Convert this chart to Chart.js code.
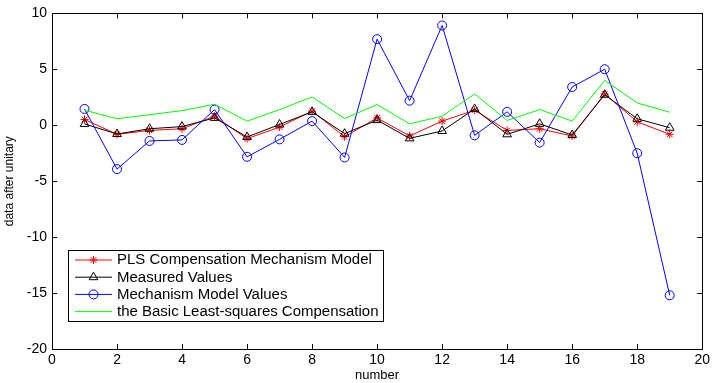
<!DOCTYPE html>
<html>
<head>
<meta charset="utf-8">
<script src="https://cdn.jsdelivr.net/npm/chart.js@4.4.0/dist/chart.umd.min.js"></script>
<style>
  html, body { margin: 0; padding: 0; background: #fff; }
  #wrap { width: 713px; height: 383px; }
</style>
</head>
<body>
<div id="wrap"><canvas id="plot" width="713" height="383"></canvas></div>
<script>
// values
const numbers = [1, 2, 3, 4, 5, 6, 7, 8, 9, 10, 11, 12, 13, 14, 15, 16, 17, 18, 19];
const plsModel = [0.52, -0.81, -0.46, -0.31, 0.81, -1.2, -0.16, 1.26, -1.02, 0.66, -0.96, 0.37, 1.35, -0.46, -0.31, -0.96, 2.8, 0.31, -0.81];
const measured = [0.12, -0.78, -0.31, -0.12, 0.66, -1.05, 0.07, 1.2, -0.75, 0.46, -1.17, -0.51, 1.46, -0.81, 0.13, -0.87, 2.73, 0.58, -0.22];
const mechanism = [1.46, -3.92, -1.4, -1.31, 1.4, -2.82, -1.26, 0.37, -2.88, 7.7, 2.2, 8.92, -0.9, 1.2, -1.55, 3.42, 5.01, -2.5, -15.2];
const basicLS = [1.35, 0.58, 0.95, 1.31, 1.88, 0.37, 1.4, 2.53, 0.6, 1.85, 0.13, 0.81, 2.8, 0.43, 1.4, 0.37, 4.01, 2.0, 1.17];

const xTicks = [0, 2, 4, 6, 8, 10, 12, 14, 16, 18, 20];
const yTicks = [-20, -15, -10, -5, 0, 5, 10];

const FONT = '"Liberation Sans", Arial, sans-serif';

function pts(values) {
    return numbers.map((n, i) => ({ x: n, y: values[i] }));
}

// frame, inward ticks on all four sides, and the boxed legend
const matlabAxes = {
    id: 'matlabAxes',
    beforeDatasetsDraw(chart) {
        const { ctx, chartArea: a, scales } = chart;
        const len = 5;
        ctx.save();
        ctx.strokeStyle = '#000';
        ctx.lineWidth = 1;
        ctx.beginPath();
        xTicks.forEach(v => {
            const px = Math.round(scales.x.getPixelForValue(v)) + 0.5;
            ctx.moveTo(px, a.bottom); ctx.lineTo(px, a.bottom - len);
            ctx.moveTo(px, a.top); ctx.lineTo(px, a.top + len);
        });
        yTicks.forEach(v => {
            const py = Math.round(scales.y.getPixelForValue(v)) + 0.5;
            ctx.moveTo(a.left, py); ctx.lineTo(a.left + len, py);
            ctx.moveTo(a.right, py); ctx.lineTo(a.right - len, py);
        });
        ctx.stroke();
        ctx.strokeRect(Math.round(a.left) + 0.5, Math.round(a.top) + 0.5,
            Math.round(a.right - a.left), Math.round(a.bottom - a.top));
        ctx.restore();
    },
    afterDraw(chart) {
        const { ctx } = chart;
        const box = { x: 68.5, y: 250.5, w: 315, h: 71 };
        ctx.save();
        ctx.fillStyle = '#fff';
        ctx.fillRect(box.x, box.y, box.w, box.h);
        ctx.strokeStyle = '#000';
        ctx.lineWidth = 1;
        ctx.strokeRect(box.x, box.y, box.w, box.h);
        ctx.font = '14px ' + FONT;
        ctx.textBaseline = 'middle';
        chart.data.datasets.forEach((ds, i) => {
            const y = 260 + i * 17.2;
            ctx.strokeStyle = ds.borderColor;
            ctx.lineWidth = 1;
            ctx.beginPath();
            ctx.moveTo(75, y); ctx.lineTo(112, y);
            ctx.stroke();
            if (ds.pointStyle) {
                ctx.fillStyle = 'rgba(0,0,0,0)';
                Chart.helpers.drawPoint(ctx, {
                    pointStyle: ds.pointStyle,
                    radius: ds.pointRadius,
                    borderWidth: 1,
                    rotation: 0
                }, 93.5, y);
            }
            // the source figure's text is slightly stretched sideways
            ctx.save();
            ctx.translate(117, y + 0.5);
            ctx.scale(1.07, 1);
            ctx.fillStyle = '#000';
            ctx.fillText(ds.label, 0, 0);
            ctx.restore();
        });
        ctx.restore();
    }
};

new Chart(document.getElementById('plot'), {
    type: 'line',
    data: {
        datasets: [
            {
                label: 'PLS Compensation Mechanism Model',
                data: pts(plsModel),
                borderColor: '#ff0000',
                pointBorderColor: '#ff0000',
                pointStyle: 'star',
                pointRadius: 4,
                order: 4
            },
            {
                label: 'Measured Values',
                data: pts(measured),
                borderColor: '#000000',
                pointBorderColor: '#000000',
                pointStyle: 'triangle',
                pointRadius: 5,
                order: 3
            },
            {
                label: 'Mechanism Model Values',
                data: pts(mechanism),
                borderColor: '#0000ff',
                pointBorderColor: '#0000ff',
                pointStyle: 'circle',
                pointRadius: 4.5,
                order: 2
            },
            {
                label: 'the Basic Least-squares Compensation',
                data: pts(basicLS),
                borderColor: '#00ff00',
                pointStyle: false,
                pointRadius: 0,
                order: 1
            }
        ]
    },
    options: {
        responsive: false,
        animation: false,
        devicePixelRatio: 1,
        layout: { padding: { top: 9, right: 8, left: 0, bottom: 0 } },
        elements: {
            line: { borderWidth: 1, tension: 0, fill: false },
            point: { borderWidth: 1, backgroundColor: 'rgba(0,0,0,0)', hoverRadius: 4 }
        },
        plugins: {
            legend: { display: false },
            tooltip: { enabled: false }
        },
        scales: {
            x: {
                type: 'linear',
                min: 0,
                max: 20,
                afterBuildTicks: s => { s.ticks = xTicks.map(v => ({ value: v })); },
                afterFit: s => { s.height = 34; },
                grid: { display: false, drawTicks: false },
                border: { display: false },
                ticks: { color: '#000', font: { family: FONT, size: 14 }, padding: 3, maxRotation: 0, autoSkip: false },
                title: { display: true, text: 'number', color: '#000', font: { family: FONT, size: 13 }, padding: { top: 0, bottom: 0 } }
            },
            y: {
                type: 'linear',
                min: -20,
                max: 10,
                afterBuildTicks: s => { s.ticks = yTicks.map(v => ({ value: v })); },
                afterFit: s => { s.width = 52; },
                grid: { display: false, drawTicks: false },
                border: { display: false },
                ticks: { color: '#000', font: { family: FONT, size: 14 }, padding: 5, autoSkip: false },
                title: { display: true, text: 'data after unitary', color: '#000', font: { family: FONT, size: 12 }, padding: { top: 2, bottom: 0 } }
            }
        }
    },
    plugins: [matlabAxes]
});
</script>
</body>
</html>
